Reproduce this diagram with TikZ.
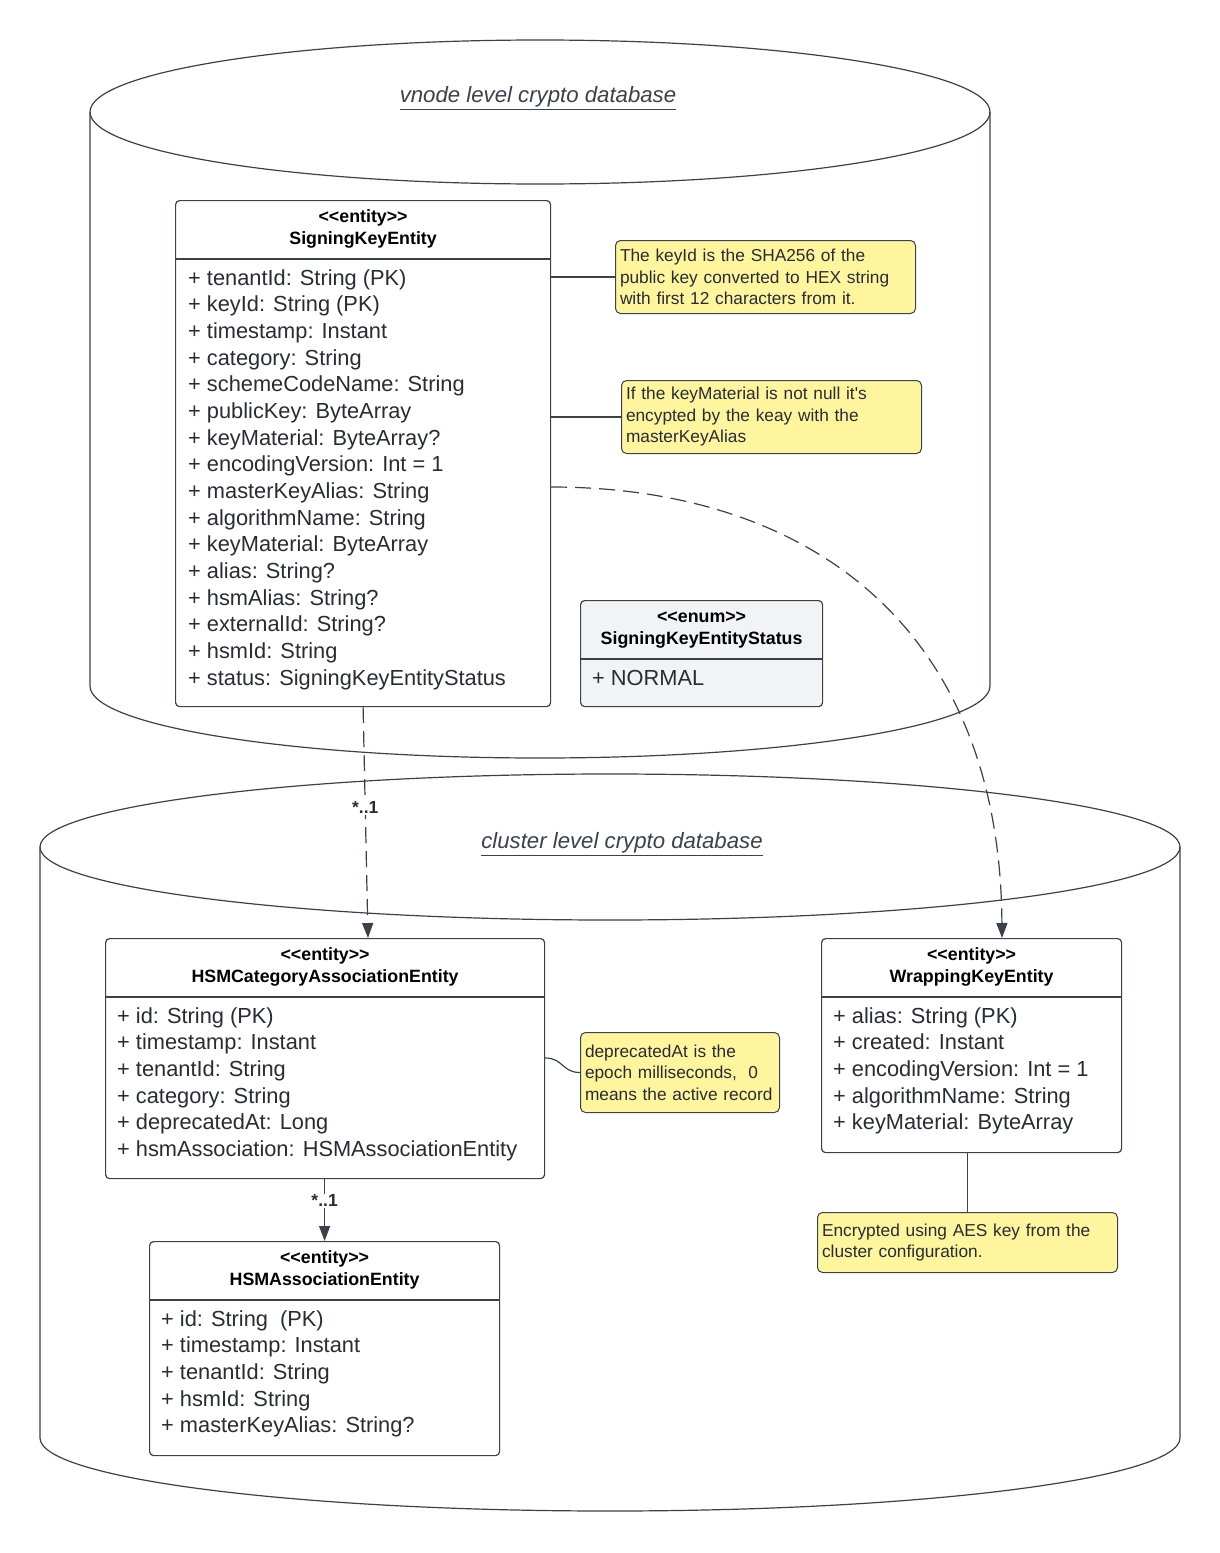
\documentclass[tikz,border=0pt]{standalone}
\usepackage{fontspec}
\setmainfont{Liberation Sans}[Ligatures=TeXOff]
\usetikzlibrary{arrows.meta, positioning, calc}
\definecolor{lineGray}{HTML}{3A414A}
\definecolor{textGray}{HTML}{282C33}
\definecolor{noteYellow}{HTML}{FFF59F}
\definecolor{enumGray}{HTML}{F2F3F5}

\begin{document}
\begin{tikzpicture}[x=1pt, y=-1pt,
  entbox/.style={draw=lineGray, line width=1.2pt, fill=white, rounded corners=4pt, anchor=north west, inner sep=0pt},
  headtxt/.style={font=\bfseries\fontsize{17.8}{21}\selectfont, text=black, anchor=base, inner sep=0pt},
  attr/.style={font=\fontsize{21.8}{26}\selectfont, text=textGray, anchor=base west, inner sep=0pt},
  note/.style={draw=lineGray, line width=1pt, fill=noteYellow, rounded corners=5pt, anchor=north west, align=left, inner sep=4.5pt, font=\fontsize{17.3}{21.5}\selectfont, text=textGray},
  link/.style={draw=lineGray, line width=1.2pt},
  dep/.style={link, dash pattern=on 16pt off 8pt, -{Triangle[length=15pt,width=11pt]}},
  mult/.style={font=\bfseries\fontsize{17.5}{20}\selectfont, text=textGray, fill=white, inner sep=1pt},
  dbtitle/.style={font=\itshape\fontsize{22.2}{26}\selectfont, text=lineGray},
]
\useasboundingbox (0,0) rectangle (1220,1553);

% databases
\draw[link] (90,112) -- (90,686) arc[start angle=180, end angle=360, x radius=450pt, y radius=72pt] -- (990,112);
\draw[link] (540,112) ellipse[x radius=450pt, y radius=72pt];
\node[dbtitle] (vtitle) at (538,98) {\underline{vnode level crypto database}};

\draw[link] (40,847) -- (40,1438) arc[start angle=180, end angle=360, x radius=570pt, y radius=73pt] -- (1180,847);
\draw[link] (610,847) ellipse[x radius=570pt, y radius=73pt];
\node[dbtitle] (ctitle) at (622,844) {\underline{cluster level crypto database}};

% SigningKeyEntity
\node[entbox, minimum width=375pt, minimum height=506pt] (ske) at (175,200) {};
\node[headtxt] at ($(ske.north)+(0,22)$) {<\kern0pt<entity>\kern0pt>};
\node[headtxt] at ($(ske.north)+(0,44)$) {SigningKeyEntity};
\draw[link] ($(ske.north west)+(0,59)$) -- ($(ske.north east)+(0,59)$);
\foreach \a [count=\i from 0] in {+ tenantId: String (PK), + keyId: String (PK), + timestamp: Instant,
  + category: String, + schemeCodeName: String, + publicKey: ByteArray, + keyMaterial: ByteArray?,
  + encodingVersion: Int = 1, + masterKeyAlias: String, + algorithmName: String,
  + keyMaterial: ByteArray, + alias: String?, + hsmAlias: String?, + externalId: String?,
  + hsmId: String, + status: SigningKeyEntityStatus}
  \node[attr] at ($(ske.north west)+(13,85+26.67*\i)$) {\a};

% SigningKeyEntityStatus
\node[entbox, fill=enumGray, minimum width=242pt, minimum height=106pt] (ses) at (580,600) {};
\node[headtxt] at ($(ses.north)+(0,22)$) {<\kern0pt<enum>\kern0pt>};
\node[headtxt] at ($(ses.north)+(0,44)$) {SigningKeyEntityStatus};
\draw[link] ($(ses.north west)+(0,59)$) -- ($(ses.north east)+(0,59)$);
\node[attr] at ($(ses.north west)+(12,85)$) {+ NORMAL};

% notes on SigningKeyEntity
\node[note, text width=291pt, minimum height=73pt] (n1) at (615,240)
  {The keyId is the SHA256 of the\\public key converted to HEX string\\with first 12 characters from it.};
\node[note, text width=291pt, minimum height=73pt] (n2) at (621,380)
  {If the keyMaterial is not null it's\\encypted by the keay with the\\masterKeyAlias};
\draw[link] (ske.east |- n1.west) -- (n1.west);
\draw[link] (ske.east |- n2.west) -- (n2.west);

% HSMCategoryAssociationEntity
\node[entbox, minimum width=439pt, minimum height=240pt] (hca) at (105,938) {};
\node[headtxt] at ($(hca.north)+(0,22.5)$) {<\kern0pt<entity>\kern0pt>};
\node[headtxt] at ($(hca.north)+(0,44.5)$) {HSMCategoryAssociationEntity};
\draw[link] ($(hca.north west)+(0,59)$) -- ($(hca.north east)+(0,59)$);
\foreach \a [count=\i from 0] in {+ id: String (PK), + timestamp: Instant, + tenantId: String,
  + category: String, + deprecatedAt: Long, + hsmAssociation: HSMAssociationEntity}
  \node[attr] at ($(hca.north west)+(12,85+26.67*\i)$) {\a};

\node[note, text width=190pt, minimum height=80pt] (n3) at (580,1032)
  {deprecatedAt is the\\epoch milliseconds,~ 0\\means the active record};
\draw[link] ($(hca.north east)+(0,120)$) .. controls +(18,0) and +(-18,0) .. (n3.west);

% WrappingKeyEntity
\node[entbox, minimum width=300pt, minimum height=214pt] (wke) at (821,938) {};
\node[headtxt] at ($(wke.north)+(0,22.5)$) {<\kern0pt<entity>\kern0pt>};
\node[headtxt] at ($(wke.north)+(0,44.5)$) {WrappingKeyEntity};
\draw[link] ($(wke.north west)+(0,59)$) -- ($(wke.north east)+(0,59)$);
\foreach \a [count=\i from 0] in {+ alias: String (PK), + created: Instant,
  + encodingVersion: Int = 1, + algorithmName: String, + keyMaterial: ByteArray}
  \node[attr] at ($(wke.north west)+(12,85+26.67*\i)$) {\a};

\node[note, text width=291pt, minimum height=60pt] (n4) at (817,1212)
  {Encrypted using AES key from the\\cluster configuration.};
\draw[link] (n4.north |- wke.south) -- (n4.north);

% HSMAssociationEntity
\node[entbox, minimum width=350pt, minimum height=214pt] (hsa) at (149,1241) {};
\node[headtxt] at ($(hsa.north)+(0,22.5)$) {<\kern0pt<entity>\kern0pt>};
\node[headtxt] at ($(hsa.north)+(0,44.5)$) {HSMAssociationEntity};
\draw[link] ($(hsa.north west)+(0,59)$) -- ($(hsa.north east)+(0,59)$);
\foreach \a [count=\i from 0] in {+ id: String~ (PK), + timestamp: Instant, + tenantId: String,
  + hsmId: String, + masterKeyAlias: String?}
  \node[attr] at ($(hsa.north west)+(12,85+26.67*\i)$) {\a};

% associations
\coordinate (hcaIn) at ($(hca.north west)+(263,0)$);
\coordinate (skeOut) at ($(ske.north east)+(0,287)$);
\coordinate (wkeIn) at ($(wke.north west)+(181,0)$);
\draw[dep] (ske.south) -- (hcaIn) node[mult, pos=0.435] {*..1};
\draw[dep] (skeOut) .. controls +(250,0) and +(-2,-318) .. (wkeIn);
\draw[link, -{Triangle[length=15pt,width=11pt]}] (hca.south -| hsa.north) -- (hsa.north) node[mult, pos=0.35] {*..1};
\end{tikzpicture}
\end{document}
